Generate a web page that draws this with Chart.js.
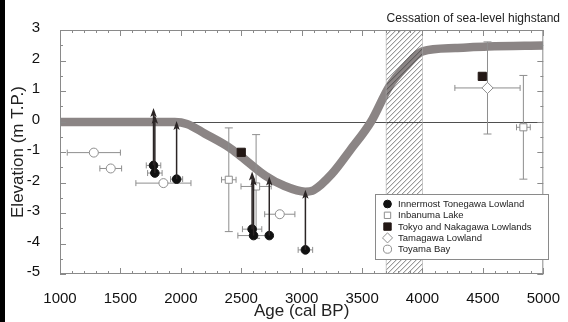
<!DOCTYPE html>
<html>
<head>
<meta charset="utf-8">
<script src="https://cdn.jsdelivr.net/npm/chart.js"></script>
<style>
  body { margin: 0; padding: 0; background: #fff; }
  #wrap { width: 568px; height: 322px; }
</style>
</head>
<body>
<div id="wrap"><canvas id="seaLevel" width="568" height="322"></canvas></div>
<script>
// sea-level curve (thick grey band)
const curveAge  = [1000, 1500, 1950, 2050, 2200, 2400, 2500, 2700, 2850, 3030, 3100, 3250, 3400, 3575, 3725, 3860, 4000, 4270, 4540, 5000];
const curveElev = [-0.02, -0.02, -0.02, -0.08, -0.4, -0.85, -1.15, -1.78, -2.1, -2.3, -2.25, -1.72, -0.95, 0, 1.15, 1.8, 2.3, 2.41, 2.46, 2.49];

// Innermost Tonegawa Lowland (filled circles, arrows = upper limits)
const toneAge   = [1774, 1785, 1965, 2590, 2602, 2732, 3031];
const toneElev  = [-1.44, -1.69, -1.89, -3.53, -3.74, -3.74, -4.21];
const toneAgeErr = [60, 60, 50, 80, 130, 0, 60];
const toneArrowTop = [0.44, 0.22, 0.02, -1.64, -1.8, -1.8, -2.24];

// Inbanuma Lake (open squares)
const inbaAge  = [2397, 2623, 4835];
const inbaElev = [-1.91, -2.13, -0.19];
const inbaAgeErr  = [60, 125, 57];
const inbaElevErr = [1.7, 1.7, 1.7];

// Tokyo and Nakagawa Lowlands (filled squares)
const tokyoAge  = [2500, 4495];
const tokyoElev = [-1.01, 1.48];

// Tamagawa Lowland (open diamond)
const tamaAge  = [4538];
const tamaElev = [1.1];
const tamaAgeErr  = [270];
const tamaElevErr = [1.51];

// Toyama Bay (open circles)
const toyaAge  = [1280, 1420, 1856, 2819];
const toyaElev = [-1.02, -1.54, -2.02, -3.04];
const toyaAgeErr = [220, 90, 228, 125];

// highstand cessation band
const highstand = [3700, 4000];

const pts = (xs, ys) => xs.map((x, i) => ({ x: x, y: ys[i] }));

const FONT = "'Liberation Sans', Arial, sans-serif";
const errGrey = '#8e8e8e';

const decorPlugin = {
  id: 'decor',
  beforeDatasetsDraw(chart) {
    const { ctx, chartArea: a, scales: { x, y } } = chart;
    // zero line
    ctx.save();
    ctx.strokeStyle = '#222';
    ctx.lineWidth = 0.8;
    const y0 = Math.round(y.getPixelForValue(0)) + 0.5;
    ctx.beginPath(); ctx.moveTo(a.left, y0); ctx.lineTo(a.right, y0); ctx.stroke();
    ctx.restore();
  },
  afterDatasetDraw(chart, args) {
    if (args.index !== 0) return;
    const { ctx, chartArea: a, scales: { x, y } } = chart;
    // hatched highstand band
    const x1 = x.getPixelForValue(highstand[0]), x2 = x.getPixelForValue(highstand[1]);
    ctx.save();
    ctx.beginPath(); ctx.rect(x1, a.top, x2 - x1, a.bottom - a.top); ctx.clip();
    ctx.strokeStyle = '#333';
    ctx.lineWidth = 0.65;
    const h = a.bottom - a.top;
    for (let s = x1 - h; s < x2 + 5; s += 5) {
      ctx.beginPath(); ctx.moveTo(s, a.bottom); ctx.lineTo(s + h, a.top); ctx.stroke();
    }
    ctx.restore();
    ctx.save();
    ctx.strokeStyle = '#aaa'; ctx.lineWidth = 0.6;
    ctx.beginPath();
    ctx.moveTo(x1, a.top); ctx.lineTo(x1, a.bottom);
    ctx.moveTo(x2, a.top); ctx.lineTo(x2, a.bottom);
    ctx.stroke();
    ctx.restore();

    // error bars
    ctx.save();
    ctx.strokeStyle = errGrey;
    ctx.lineWidth = 1;
    const hbar = (ax, ev, e) => {
      if (!e) return;
      const l = x.getPixelForValue(ax - e), r = x.getPixelForValue(ax + e), py = y.getPixelForValue(ev);
      ctx.beginPath();
      ctx.moveTo(l, py); ctx.lineTo(r, py);
      ctx.moveTo(l, py - 3); ctx.lineTo(l, py + 3);
      ctx.moveTo(r, py - 3); ctx.lineTo(r, py + 3);
      ctx.stroke();
    };
    const vbar = (ax, ev, e) => {
      if (!e) return;
      const px = x.getPixelForValue(ax), t = y.getPixelForValue(ev + e), b = y.getPixelForValue(ev - e);
      ctx.beginPath();
      ctx.moveTo(px, t); ctx.lineTo(px, b);
      ctx.moveTo(px - 4, t); ctx.lineTo(px + 4, t);
      ctx.moveTo(px - 4, b); ctx.lineTo(px + 4, b);
      ctx.stroke();
    };
    toneAge.forEach((v, i) => hbar(v, toneElev[i], toneAgeErr[i]));
    inbaAge.forEach((v, i) => { hbar(v, inbaElev[i], inbaAgeErr[i]); vbar(v, inbaElev[i], inbaElevErr[i]); });
    tamaAge.forEach((v, i) => { hbar(v, tamaElev[i], tamaAgeErr[i]); vbar(v, tamaElev[i], tamaElevErr[i]); });
    toyaAge.forEach((v, i) => hbar(v, toyaElev[i], toyaAgeErr[i]));
    ctx.restore();
  },
  afterDatasetsDraw(chart) {
    const { ctx, chartArea: a, scales: { x, y } } = chart;
    // arrows (upper limits)
    ctx.save();
    ctx.strokeStyle = '#2b2525';
    ctx.fillStyle = '#2b2525';
    ctx.lineWidth = 1.5;
    toneAge.forEach((v, i) => {
      const px = x.getPixelForValue(v), pb = y.getPixelForValue(toneElev[i]), pt = y.getPixelForValue(toneArrowTop[i]);
      ctx.beginPath(); ctx.moveTo(px, pb); ctx.lineTo(px, pt + 6); ctx.stroke();
      ctx.beginPath(); ctx.moveTo(px, pt); ctx.lineTo(px - 3.2, pt + 9); ctx.lineTo(px, pt + 7); ctx.lineTo(px + 3.2, pt + 9); ctx.closePath(); ctx.fill();
    });
    ctx.restore();

    // frame with inward ticks on all four sides
    ctx.save();
    ctx.strokeStyle = '#8a8a8a';
    ctx.lineWidth = 1;
    ctx.strokeRect(a.left + 0.5, a.top + 0.5, a.right - a.left - 1, a.bottom - a.top - 1);
    ctx.beginPath();
    for (let v = 1000; v <= 5000; v += 100) {
      const px = Math.round(x.getPixelForValue(v)) + 0.5;
      const len = v % 500 === 0 ? 6 : 3;
      ctx.moveTo(px, a.bottom); ctx.lineTo(px, a.bottom - len);
      ctx.moveTo(px, a.top); ctx.lineTo(px, a.top + len);
    }
    for (let v = -5; v <= 3; v += 0.5) {
      const py = Math.round(y.getPixelForValue(v)) + 0.5;
      const len = Number.isInteger(v) ? 6 : 3;
      ctx.moveTo(a.left, py); ctx.lineTo(a.left + len, py);
      ctx.moveTo(a.right, py); ctx.lineTo(a.right - len, py);
    }
    ctx.stroke();
    ctx.restore();

    // legend box
    const lx = 375, ly = 194, lw = 173, lh = 65;
    ctx.save();
    ctx.fillStyle = '#fff';
    ctx.fillRect(lx, ly, lw, lh);
    ctx.strokeStyle = '#8a8a8a';
    ctx.lineWidth = 1;
    ctx.strokeRect(lx + 0.5, ly + 0.5, lw, lh);
    ctx.font = '9.5px ' + FONT;
    ctx.textBaseline = 'middle';
    chart.data.datasets.slice(1).forEach((ds, i) => {
      const ry = ly + 10 + i * 11.3;
      ctx.fillStyle = ds.backgroundColor;
      ctx.strokeStyle = ds.borderColor;
      ctx.lineWidth = ds.borderWidth;
      Chart.helpers.drawPoint(ctx, { pointStyle: ds.pointStyle, radius: ds.pointRadius * 0.9, borderWidth: ds.borderWidth }, lx + 12.5, ry);
      ctx.fillStyle = '#222';
      ctx.fillText(ds.label, lx + 23, ry + 0.5);
    });
    ctx.restore();

    // annotation + left edge bar
    ctx.save();
    ctx.font = '12px ' + FONT;
    ctx.fillStyle = '#222';
    ctx.textAlign = 'right';
    ctx.textBaseline = 'middle';
    ctx.fillText('Cessation of sea-level highstand', 560, 18.5);
    ctx.fillStyle = '#000';
    ctx.fillRect(0, 0, 5, 322);
    ctx.restore();
  }
};

const ctx = document.getElementById('seaLevel').getContext('2d');
new Chart(ctx, {
  type: 'scatter',
  data: {
    datasets: [
      {
        type: 'line',
        label: 'curve',
        data: pts(curveAge, curveElev),
        borderColor: '#8b8585',
        borderWidth: 8.5,
        pointRadius: 0,
        cubicInterpolationMode: 'monotone',
        order: 10
      },
      {
        label: 'Innermost Tonegawa Lowland',
        data: pts(toneAge, toneElev),
        pointStyle: 'circle', pointRadius: 4.3,
        backgroundColor: '#111', borderColor: '#111', borderWidth: 1
      },
      {
        label: 'Inbanuma Lake',
        data: pts(inbaAge, inbaElev),
        pointStyle: 'rect', pointRadius: 5,
        backgroundColor: '#fff', borderColor: '#8e8e8e', borderWidth: 1
      },
      {
        label: 'Tokyo and Nakagawa Lowlands',
        data: pts(tokyoAge, tokyoElev),
        pointStyle: 'rect', pointRadius: 5.8,
        backgroundColor: '#231815', borderColor: '#231815', borderWidth: 1
      },
      {
        label: 'Tamagawa Lowland',
        data: pts(tamaAge, tamaElev),
        pointStyle: 'rectRot', pointRadius: 5.6,
        backgroundColor: '#fff', borderColor: '#8e8e8e', borderWidth: 1
      },
      {
        label: 'Toyama Bay',
        data: pts(toyaAge, toyaElev),
        pointStyle: 'circle', pointRadius: 4.5,
        backgroundColor: '#fff', borderColor: '#8e8e8e', borderWidth: 1
      }
    ]
  },
  options: {
    responsive: false,
    animation: false,
    layout: { padding: { left: 0, top: 30, right: 18, bottom: 0 } },
    plugins: { legend: { display: false }, tooltip: { enabled: false } },
    scales: {
      x: {
        type: 'linear', min: 1000, max: 5000,
        afterFit: s => { s.height = 48; },
        grid: { display: false }, border: { display: false },
        ticks: { stepSize: 500, padding: 8, color: '#111', font: { family: FONT, size: 15 }, maxRotation: 0, callback: v => String(v) },
        title: { display: true, text: 'Age (cal BP)', color: '#222', font: { family: FONT, size: 17 }, padding: { top: 0, bottom: 0 } }
      },
      y: {
        type: 'linear', min: -5, max: 3,
        afterFit: s => { s.width = 60; },
        grid: { display: false }, border: { display: false },
        ticks: { stepSize: 1, padding: 12, color: '#111', font: { family: FONT, size: 15 }, labelOffset: -2, callback: v => String(v) },
        title: { display: true, text: 'Elevation (m T.P.)', color: '#222', font: { family: FONT, size: 17 }, padding: { top: 8, bottom: 0 } }
      }
    }
  },
  plugins: [decorPlugin]
});
</script>
</body>
</html>
